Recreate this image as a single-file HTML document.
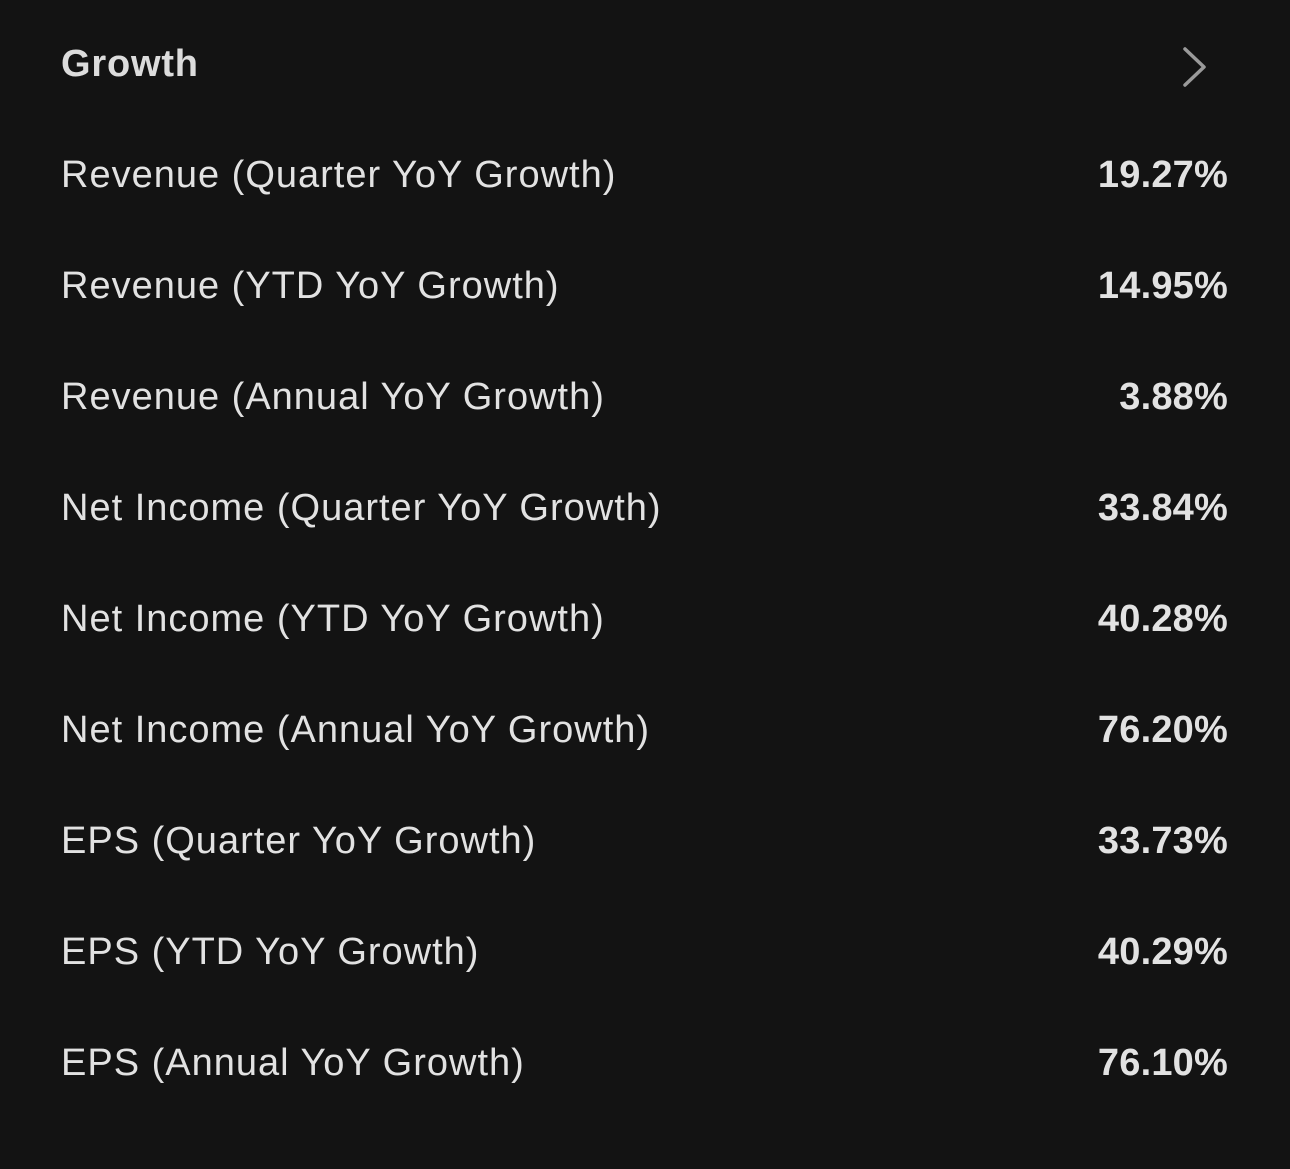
<!DOCTYPE html>
<html><head><meta charset="utf-8"><style>
html,body{margin:0;padding:0;background:#131313;}
body{width:1290px;height:1169px;position:relative;overflow:hidden;font-family:"Liberation Sans",sans-serif;color:#e2e2e2;}
.t{position:absolute;left:61px;top:40px;font-size:38px;font-weight:bold;color:#dcdcdc;line-height:48px;letter-spacing:0.8px;}
.r{position:absolute;left:61px;width:1167px;height:48px;line-height:48px;font-size:38px;letter-spacing:1px;}
.r .v{position:absolute;right:0;top:0;font-weight:bold;letter-spacing:0.2px;}
svg{position:absolute;left:1178px;top:46px;}
</style></head><body>
<div class="t">Growth</div>
<svg width="34" height="42" viewBox="0 0 34 42"><polyline points="7,3 26,21 7,39" fill="none" stroke="#9a9a9a" stroke-width="3.5" stroke-linecap="round" stroke-linejoin="round"/></svg>
<div class="r" style="top:151px">Revenue (Quarter YoY Growth)<span class="v">19.27%</span></div>
<div class="r" style="top:262px">Revenue (YTD YoY Growth)<span class="v">14.95%</span></div>
<div class="r" style="top:373px">Revenue (Annual YoY Growth)<span class="v">3.88%</span></div>
<div class="r" style="top:484px">Net Income (Quarter YoY Growth)<span class="v">33.84%</span></div>
<div class="r" style="top:595px">Net Income (YTD YoY Growth)<span class="v">40.28%</span></div>
<div class="r" style="top:706px">Net Income (Annual YoY Growth)<span class="v">76.20%</span></div>
<div class="r" style="top:817px">EPS (Quarter YoY Growth)<span class="v">33.73%</span></div>
<div class="r" style="top:928px">EPS (YTD YoY Growth)<span class="v">40.29%</span></div>
<div class="r" style="top:1039px">EPS (Annual YoY Growth)<span class="v">76.10%</span></div>
</body></html>
